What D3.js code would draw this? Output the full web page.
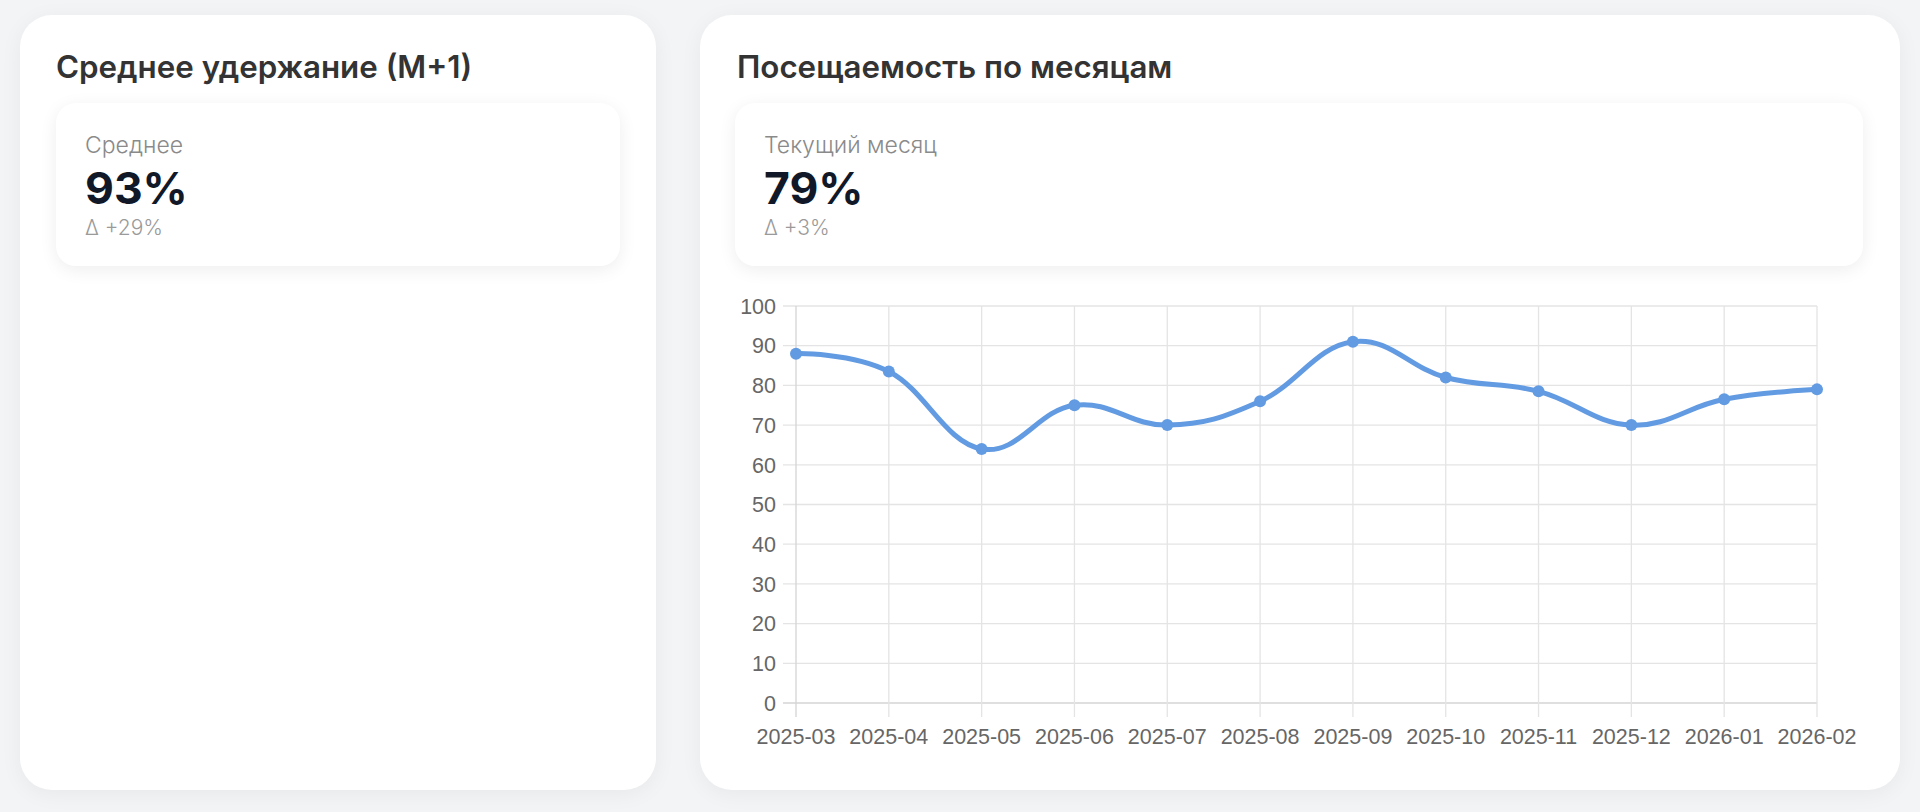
<!DOCTYPE html>
<html>
<head>
<meta charset="utf-8">
<script src="https://cdn.jsdelivr.net/npm/d3@7/dist/d3.min.js"></script>
<style>
  html,body{margin:0;padding:0;width:1920px;height:812px;background:#f3f4f6;overflow:hidden;}
  .card{position:absolute;background:#fff;border-radius:32px;box-shadow:0 4px 22px rgba(0,0,0,0.05);}
  .kpi{position:absolute;background:#fff;border-radius:20px;box-shadow:0 4px 18px rgba(0,0,0,0.07);}
  svg{position:absolute;left:0;top:0;}
</style>
</head>
<body>
<div class="card" style="left:20px;top:15px;width:636px;height:775px;"></div>
<div class="card" style="left:700px;top:15px;width:1200px;height:775px;"></div>
<div class="kpi" style="left:56px;top:103px;width:564px;height:163px;"></div>
<div class="kpi" style="left:735px;top:103px;width:1128px;height:163px;"></div>
<svg id="chart" width="1920" height="812"></svg>
<script>
// ---- data ----
const months = ["2025-03","2025-04","2025-05","2025-06","2025-07","2025-08","2025-09","2025-10","2025-11","2025-12","2026-01","2026-02"];
const attendance = [88, 83.5, 64, 75, 70, 76, 91, 82, 78.5, 70, 76.5, 79];
const yTicks = [0,10,20,30,40,50,60,70,80,90,100];
const panelTitles = ["Среднее удержание (М+1)", "Посещаемость по месяцам"];
const kpiLabels = ["Среднее", "Текущий месяц"];
const kpiValues = ["93%", "79%"];
const kpiDeltas = ["Δ +29%", "Δ +3%"];

const svg = d3.select("#chart");
const headFont = "Inter, 'Noto Sans', sans-serif";
const tickFont = "'Liberation Sans', Arial, sans-serif";

// ---- panel texts ----
const titleX = [56, 737];
const kpiX = [85, 764];
panelTitles.forEach((t,i)=>{
  svg.append("text").attr("x",titleX[i]).attr("y",78).text(t)
    .attr("font-family",headFont).attr("font-weight",600).attr("font-size",31.3).attr("fill","#333");
  svg.append("text").attr("x",kpiX[i]).attr("y",153).text(kpiLabels[i])
    .attr("font-family",headFont).attr("font-weight",300).attr("font-size",23).attr("fill","#8a8a8a");
  svg.append("text").attr("x",kpiX[i]).attr("y",204).text(kpiValues[i])
    .attr("font-family",headFont).attr("font-weight",700).attr("font-size",44.5).attr("fill","#111827");
  svg.append("text").attr("x",kpiX[i]).attr("y",235).text(kpiDeltas[i])
    .attr("font-family",headFont).attr("font-weight",300).attr("font-size",21).attr("fill","#9a9a9a");
});

// ---- chart ----
const x = d3.scalePoint().domain(months).range([796, 1817]).padding(0);
const y = d3.scaleLinear().domain([0, 100]).range([703, 306]);
const g = svg.append("g");

// horizontal grid
g.selectAll("line.h").data(yTicks).join("line")
  .attr("x1", 783).attr("x2", 1817)
  .attr("y1", d=>y(d)).attr("y2", d=>y(d))
  .attr("stroke", d=> d===0 ? "#d4d4d4" : "#e4e4e4").attr("stroke-width", 1.3);
// vertical grid
g.selectAll("line.v").data(months).join("line")
  .attr("x1", d=>x(d)).attr("x2", d=>x(d))
  .attr("y1", 306).attr("y2", 717)
  .attr("stroke", (d,i)=> i===0 ? "#d4d4d4" : "#e4e4e4").attr("stroke-width", 1.3);

// y labels
g.selectAll("text.yl").data(yTicks).join("text")
  .attr("x", 776).attr("y", d=>y(d)).attr("dy","0.36em")
  .attr("text-anchor","end").text(d=>d)
  .attr("font-family",tickFont).attr("font-size",21.5).attr("fill","#666");
// x labels
g.selectAll("text.xl").data(months).join("text")
  .attr("x", d=>x(d)).attr("y", 744)
  .attr("text-anchor","middle").text(d=>d)
  .attr("font-family",tickFont).attr("font-size",21.5).attr("fill","#666");

// line
const color = "#629be2";
const line = d3.line().x((d,i)=>x(months[i])).y(d=>y(d)).curve(d3.curveCardinal.tension(-0.2));
g.append("path").datum(attendance).attr("d", line)
  .attr("fill","none").attr("stroke",color).attr("stroke-width",5)
  .attr("stroke-linejoin","round").attr("stroke-linecap","round");
g.selectAll("circle").data(attendance).join("circle")
  .attr("cx",(d,i)=>x(months[i])).attr("cy",d=>y(d)).attr("r",6).attr("fill",color);
</script>
</body>
</html>
